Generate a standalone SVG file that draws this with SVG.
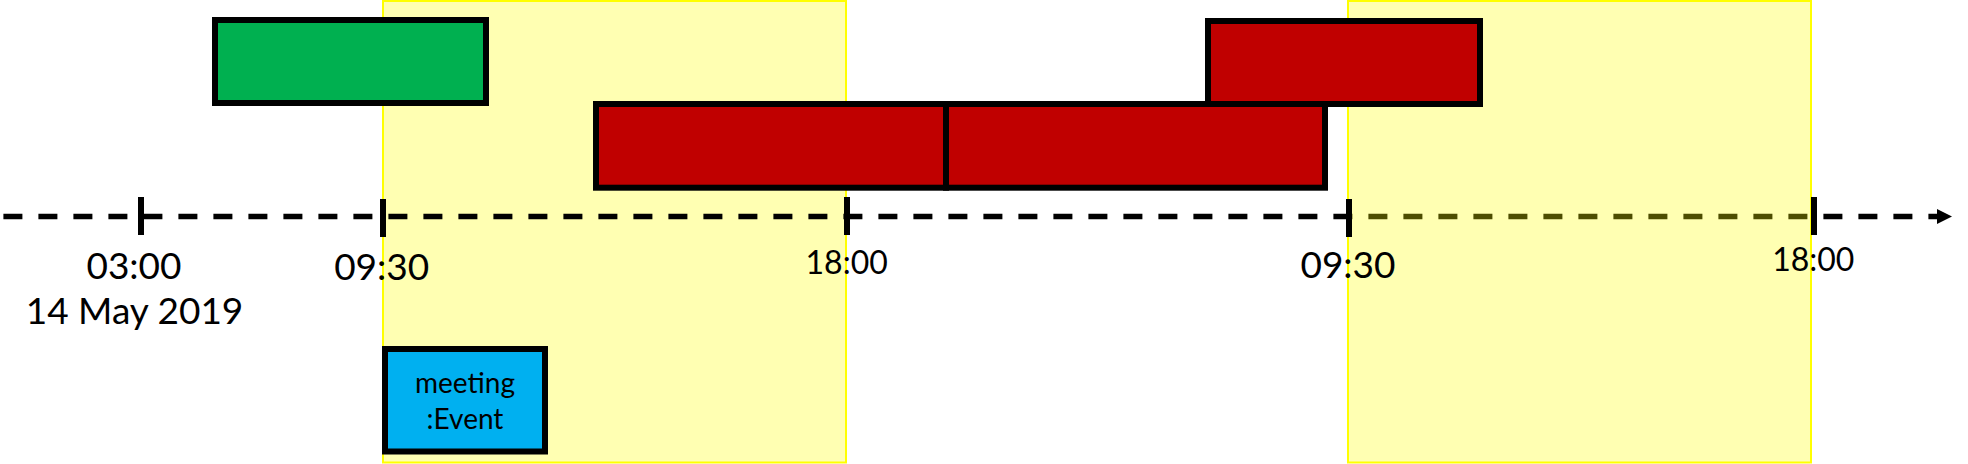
<svg xmlns="http://www.w3.org/2000/svg" width="1968" height="464" viewBox="0 0 1968 464">
  <style>
    .band { fill: #ffff00; fill-opacity: 0.3; stroke: #ffff00; stroke-width: 2; }
    .box { stroke: #000000; stroke-width: 6; }
    .green { fill: #00b050; }
    .red { fill: #c00000; }
    .blue { fill: #00b0f0; }
    .axis { stroke: #000000; stroke-width: 5.5; stroke-dasharray: 19 16; fill: none; }
    .tick { stroke: #000000; stroke-width: 6; }
    .lbl { font-family: Lato, "Liberation Sans", sans-serif; fill: #000000; text-anchor: middle; }
    .big { font-size: 37px; }
    .small { font-size: 32px; }
    .evt { font-size: 28px; }
  </style>
  <defs>
    <marker id="arrow" viewBox="0 0 15 15" refX="0" refY="7.5" markerWidth="15" markerHeight="15" markerUnits="userSpaceOnUse" orient="auto">
      <path d="M0,0 L15,7.5 L0,15 z" fill="#000000"/>
    </marker>
  </defs>

  <g id="band-day1">
    <rect class="band" x="383" y="1" width="463" height="461.5"/>
  </g>

  <g id="connectors">
    <line class="axis" x1="3.4" y1="216.5" x2="1937" y2="216.5" marker-end="url(#arrow)"/>
  </g>

  <g id="band-day2">
    <rect class="band" x="1348" y="1" width="463" height="461.5"/>
  </g>

  <g id="ticks">
    <line class="tick" x1="141" y1="197" x2="141" y2="235"/>
    <line class="tick" x1="383" y1="199" x2="383" y2="237"/>
    <line class="tick" x1="847" y1="197" x2="847" y2="235"/>
    <line class="tick" x1="1349" y1="199" x2="1349" y2="237"/>
    <line class="tick" x1="1814" y1="197" x2="1814" y2="235"/>
  </g>

  <g id="green-task">
    <rect class="box green" x="215" y="20" width="271" height="83"/>
  </g>
  <g id="red-task-1">
    <rect class="box red" x="596" y="104" width="350" height="83.7"/>
  </g>
  <g id="red-task-2">
    <rect class="box red" x="946" y="104" width="379" height="83.7"/>
  </g>
  <g id="red-task-3">
    <rect class="box red" x="1208" y="21" width="272" height="83"/>
  </g>

  <g id="meeting-event">
    <rect class="box blue" x="385" y="349" width="160" height="102.5"/>
    <text class="lbl evt" x="465" y="393">meeting</text>
    <text class="lbl evt" x="465" y="429">:Event</text>
  </g>

  <g id="labels">
    <text class="lbl big" x="134" y="279">03:00</text>
    <text class="lbl big" x="134.5" y="324">14 May 2019</text>
    <text class="lbl big" x="381.7" y="280">09:30</text>
    <text class="lbl small" x="846.7" y="274">18:00</text>
    <text class="lbl big" x="1348" y="277.5">09:30</text>
    <text class="lbl small" x="1813.3" y="271">18:00</text>
  </g>
</svg>
